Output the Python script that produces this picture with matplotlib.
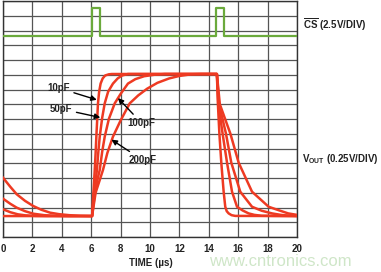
import numpy as np
import matplotlib
matplotlib.use('Agg')
import matplotlib.pyplot as plt

plt.rcParams['font.family'] = ['Liberation Sans', 'DejaVu Sans']
plt.rcParams['mathtext.fontset'] = 'custom'
plt.rcParams['mathtext.rm'] = 'Liberation Sans'
plt.rcParams['mathtext.bf'] = 'Liberation Sans:bold'

# Datos (tiempo en us, tension en divisiones de la reticula)
cs_t = [0, 6.05, 6.05, 6.6, 6.6, 14.5, 14.5, 15.0, 15.0, 20]
cs_v = [13.6, 13.6, 15.5, 15.5, 13.6, 13.6, 15.5, 15.5, 13.6, 13.6]

t_10pf = [0, 6.06, 6.15, 6.24, 6.3, 6.35, 6.41, 6.46, 6.54, 6.64, 6.78, 6.95, 7.2, 7.4,
          14.55, 14.62, 14.72, 14.85, 15.01, 15.12, 15.22, 15.35, 15.55, 15.8, 20]
v_10pf = [1.42, 1.42, 3.0, 4.54, 5.7, 6.8, 8.0, 9.06, 9.85, 10.4, 10.75, 10.95, 11.03, 11.05,
          11.05, 9.0, 7.0, 5.04, 3.07, 2.05, 1.75, 1.6, 1.48, 1.43, 1.42]

t_50pf = [0, 0.5, 1.0, 1.5, 2.2, 3.0, 6.06, 6.2, 6.39, 6.48, 6.58, 6.75, 6.92, 7.15, 7.48,
          7.8, 8.1, 8.5, 14.55, 14.65, 14.94, 15.24, 15.58, 15.92, 16.3, 16.71, 17.1, 17.6, 20]
v_50pf = [1.88, 1.68, 1.54, 1.47, 1.43, 1.42, 1.42, 3.0, 4.54, 5.7, 6.8, 8.1, 9.06, 9.85, 10.4,
          10.75, 10.95, 11.05, 11.05, 9.0, 7.0, 5.04, 3.07, 2.05, 1.8, 1.6, 1.5, 1.44, 1.42]

t_100pf = [0, 0.5, 0.93, 1.5, 2.06, 2.8, 3.5, 4.5, 6.06, 6.25, 6.45, 6.58, 6.75, 6.92, 7.2,
           7.6, 8.0, 8.5, 9.0, 9.6, 10.3, 11.0, 14.55, 14.7, 15.17, 15.53, 16.14, 16.94,
           17.6, 18.3, 18.9, 19.4, 20]
v_100pf = [2.6, 2.25, 1.99, 1.75, 1.58, 1.48, 1.44, 1.42, 1.42, 3.0, 4.0, 4.54, 5.8, 6.8, 8.0,
           9.06, 9.7, 10.4, 10.7, 10.9, 11.0, 11.05, 11.05, 9.0, 7.0, 5.04, 3.07, 2.05,
           1.78, 1.6, 1.5, 1.45, 1.43]

t_200pf = [0, 0.5, 0.93, 1.5, 2.06, 2.6, 3.2, 3.8, 4.5, 5.2, 6.06, 6.3, 6.8, 7.1, 7.48, 8.0,
           8.62, 9.2, 9.8, 10.5, 11.3, 12.0, 12.8, 13.5, 14.55, 14.75, 15.47, 16.03, 16.94,
           18.07, 18.8, 19.4, 20]
v_200pf = [4.02, 3.4, 2.9, 2.45, 2.1, 1.85, 1.65, 1.55, 1.48, 1.44, 1.42, 3.0, 4.54, 5.7, 6.8,
           7.9, 9.06, 9.6, 10.05, 10.45, 10.75, 10.92, 11.03, 11.05, 11.05, 9.0, 7.0, 5.04,
           3.07, 2.05, 1.8, 1.6, 1.5]

x_ticks = [0, 2, 4, 6, 8, 10, 12, 14, 16, 18, 20]

# Etiquetas de las curvas: (texto, posicion del texto, punta de la flecha)
etiquetas = [('10pF', (3.78, 10.1), (6.38, 9.3)),
             ('50pF', (3.95, 8.68), (6.62, 8.1)),
             ('100pF', (9.42, 7.73), (7.82, 9.42)),
             ('200pF', (9.49, 5.22), (7.38, 6.6))]

rojo = '#EE3A22'
verde = '#6BAA3C'
gris = '#555555'

fig = plt.figure(figsize=(3.81, 2.72), dpi=100)
ax = fig.add_axes([3 / 381, 35 / 272, 294 / 381, 236 / 272])

ax.set_xlim(0, 20)
ax.set_ylim(0, 16)

# Reticula
for x in x_ticks:
    ax.axvline(x, color=gris, lw=0.9, zorder=1)
for y in range(17):
    ax.axhline(y, color=gris, lw=0.9, zorder=1)

ax.plot(cs_t, cs_v, color=verde, lw=1.6, zorder=3)
for t, v in [(t_10pf, v_10pf), (t_50pf, v_50pf), (t_100pf, v_100pf), (t_200pf, v_200pf)]:
    ax.plot(t, v, color=rojo, lw=1.8, zorder=3, solid_joinstyle='round')

for texto, pos, punta in etiquetas:
    ax.annotate(texto, xy=punta, xytext=pos, ha='center', va='center',
                fontsize=7, fontweight='bold', color='#222222',
                arrowprops=dict(arrowstyle='-|>', color='black', lw=1.0,
                                mutation_scale=8, shrinkA=1, shrinkB=0),
                zorder=4)

ax.set_xticks(x_ticks)
ax.set_yticks([])
ax.tick_params(axis='x', length=0, pad=5, labelsize=7)
for lab in ax.get_xticklabels():
    lab.set_fontweight('bold')
    lab.set_color('#222222')
for s in ax.spines.values():
    s.set_color('#333333')
    s.set_linewidth(1.0)

fig.text(150.5 / 381, 1 - 263.5 / 272, 'TIME (µs)', ha='center', va='center',
         fontsize=7, fontweight='bold', color='#222222')
fig.text(280 / 381, 1 - 261 / 272, 'www.cntronics.com', ha='center', va='center',
         fontsize=12, color='#cfe6c8', zorder=0)
fig.text(303 / 381, 1 - 25 / 272, r'$\mathbf{\overline{CS}}$' + ' (2.5V/DIV)',
         ha='left', va='center', fontsize=7, fontweight='bold', color='#222222')
fig.text(302 / 381, 1 - 158.5 / 272, r'$\mathbf{V_{OUT}}$' + ' (0.25V/DIV)',
         ha='left', va='center', fontsize=7, fontweight='bold', color='#222222')

plt.savefig('out.png', dpi=100)
